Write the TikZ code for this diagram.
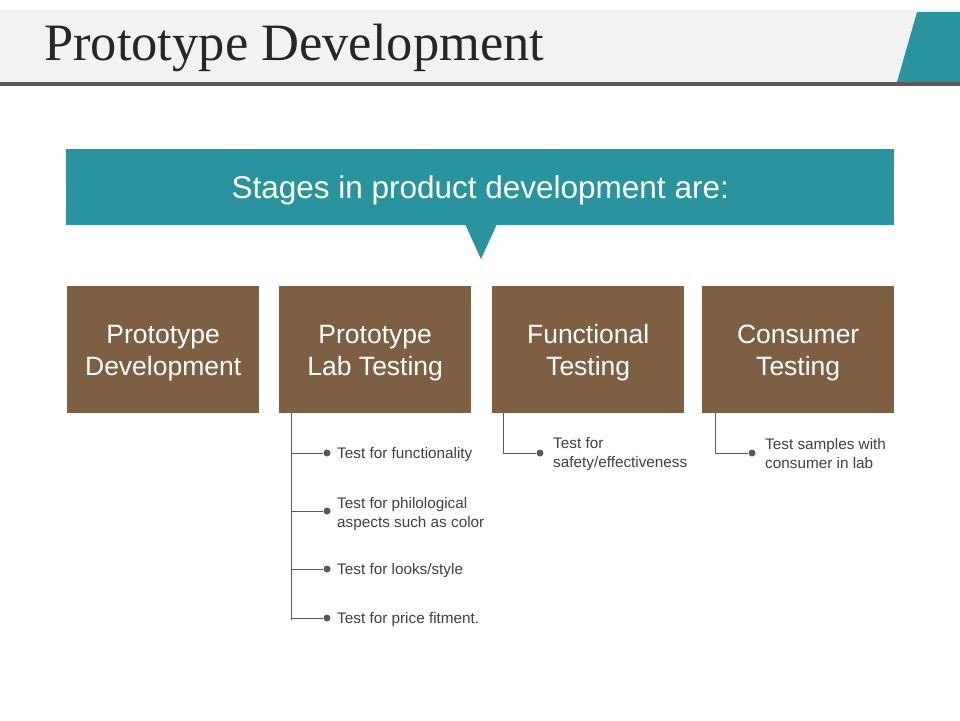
\documentclass[tikz,border=0pt]{standalone}
\usepackage{fontspec}
\setmainfont{Liberation Sans}
\newfontfamily\titlefont{Liberation Serif}
\definecolor{bandgray}{HTML}{F2F2F2}
\definecolor{rulegray}{HTML}{595959}
\definecolor{tealc}{HTML}{2A949E}
\definecolor{brownc}{HTML}{7F5F41}
\definecolor{titlegray}{HTML}{262626}
\definecolor{textgray}{HTML}{404040}
\definecolor{linegray}{HTML}{595959}
\tikzset{
  stagebox/.style={fill=brownc, minimum width=192, minimum height=127, anchor=north west, inner sep=0},
  stagetext/.style={text=white, align=center, inner sep=0, font=\fontsize{26.5}{32}\selectfont},
  bulletdot/.style={circle, fill=linegray, minimum size=7, inner sep=0},
  itemtext/.style={anchor=west, align=left, text=textgray, inner sep=0, font=\fontsize{15.3}{19}\selectfont},
  conn/.style={draw=linegray, line width=1pt},
}
\begin{document}
\begin{tikzpicture}[x=1pt,y=-1pt]
\useasboundingbox (0,0) rectangle (960,720);
% header band
\fill[bandgray] (0,10) rectangle (960,82);
\fill[tealc] (917,12) -- (960,12) -- (960,82) -- (897,82) -- cycle;
\fill[rulegray] (0,82) rectangle (960,86);
\node[anchor=base west, inner sep=0, text=titlegray, font=\titlefont\fontsize{52.5}{52}\selectfont] (title) at (44,60) {Prototype Development};
% callout
\node[fill=tealc, minimum width=828, minimum height=76, anchor=north west, inner sep=0] (callout) at (66,149) {};
\fill[tealc] (465,224) -- (497,224) -- (481,259) -- cycle;
\node[text=white, font=\fontsize{31.5}{36}\selectfont, inner sep=0] (calltext) at ([yshift=-3]callout.center) {Stages in product development are:};
% stage boxes
\node[stagebox] (b1) at (67,286) {};
\node[stagebox] (b2) at (279,286) {};
\node[stagebox] (b3) at (492,286) {};
\node[stagebox] (b4) at (702,286) {};
\node[stagetext] (s1) at ([yshift=-3]b1.center) {Prototype\\Development};
\node[stagetext] (s2) at ([yshift=-3]b2.center) {Prototype\\Lab Testing};
\node[stagetext] (s3) at ([yshift=-3]b3.center) {Functional\\Testing};
\node[stagetext] (s4) at ([yshift=-3]b4.center) {Consumer\\Testing};
% bullets box 2
\coordinate (c2) at (291,413);
\coordinate (c2e) at (291,620);
\node[bulletdot] (d21) at (327,453) {};
\node[bulletdot] (d22) at (327,511) {};
\node[bulletdot] (d23) at (327,569) {};
\node[bulletdot] (d24) at (327,618) {};
\draw[conn] (c2) -- (c2e);
\foreach \d in {d21,d22,d23,d24} \draw[conn] (c2 |- \d) -- (\d);
\node[itemtext] (t21) at (337,455) {Test for functionality};
\node[itemtext] (t22) at (337,514) {Test for philological\\aspects such as color};
\node[itemtext] (t23) at (337,571) {Test for looks/style};
\node[itemtext] (t24) at (337,620) {Test for price fitment.};
% box 3
\coordinate (c3) at (503,413);
\node[bulletdot] (d31) at (540,453) {};
\draw[conn] (c3) |- (d31);
\node[itemtext] (t31) at (553,454) {Test for\\safety/effectiveness};
% box 4
\coordinate (c4) at (715,413);
\node[bulletdot] (d41) at (752,453) {};
\draw[conn] (c4) |- (d41);
\node[itemtext] (t41) at (765,454) {Test samples with\\consumer in lab};
\end{tikzpicture}
\end{document}
